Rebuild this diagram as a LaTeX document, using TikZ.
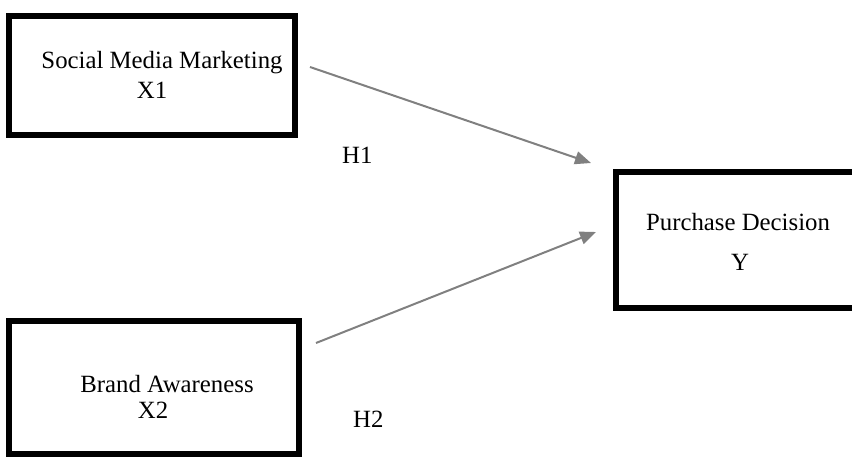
\documentclass[tikz,border=0pt]{standalone}
\usepackage{fontspec}
\setmainfont{Liberation Serif}
\usepackage{xcolor}
\usepackage{tikz}
\usetikzlibrary{arrows.meta}

\tikzset{
  varbox/.style={draw, rectangle, line width=6pt, inner sep=0pt},
  txt/.style={anchor=base, inner sep=0pt, font=\fontsize{24.8}{29}\selectfont},
  hyparrow/.style={draw=gray, line width=2pt, -{Triangle[length=16pt,width=13pt]}}
}

\begin{document}
\begin{tikzpicture}[x=1pt,y=-1pt]
\useasboundingbox (0,0) rectangle (852,456);

% Boxes
\node[varbox, minimum width=286pt, minimum height=119pt] (smm) at (152,75.5) {};
\node[varbox, minimum width=290pt, minimum height=133pt] (ba) at (154,387.5) {};
\node[varbox, minimum width=244pt, minimum height=136pt] (pd) at (738,240) {};

% Box texts
\node[txt] (smmname) at (162,68) {Social Media Marketing};
\node[txt] (smmvar) at (152,98) {X1};
\node[txt] (baname) at (167,392) {Brand Awareness};
\node[txt] (bavar) at (153,418) {X2};
\node[txt] (pdname) at (738,230) {Purchase Decision};
\node[txt] (pdvar) at (740,270) {Y};

% Hypotheses
\coordinate (h1from) at (310,67);
\coordinate (h1to) at (591,163);
\coordinate (h2from) at (316,343);
\coordinate (h2to) at (596,232);
\draw[hyparrow] (h1from) -- (h1to);
\draw[hyparrow] (h2from) -- (h2to);
\node[txt, anchor=base west] (h1) at (342,163) {H1};
\node[txt, anchor=base west] (h2) at (353,427) {H2};
\end{tikzpicture}
\end{document}
